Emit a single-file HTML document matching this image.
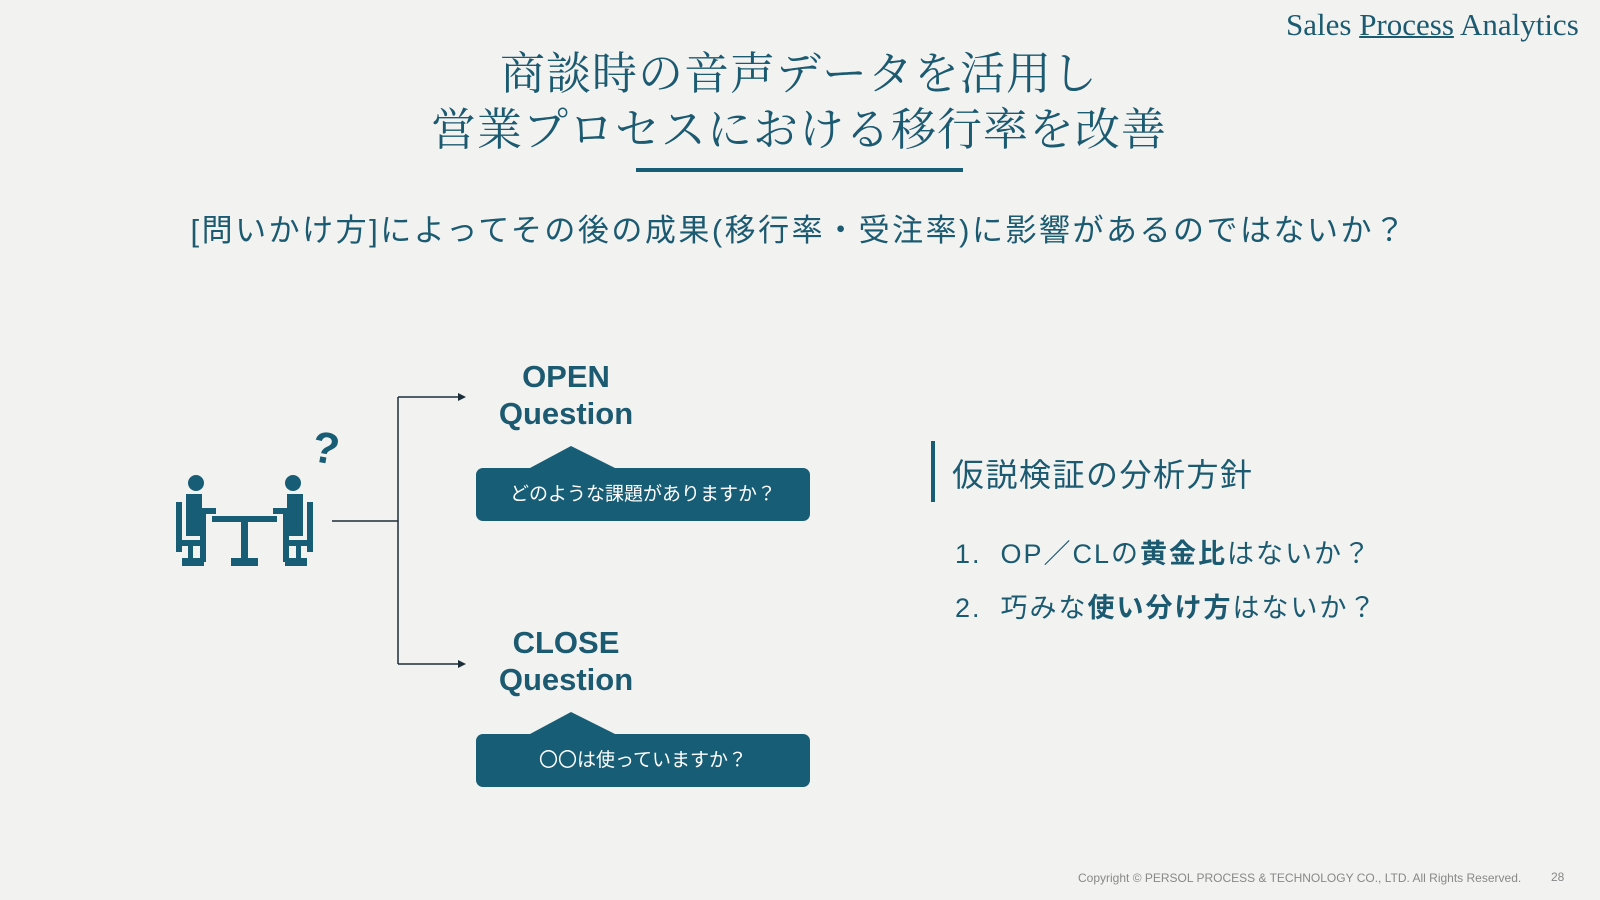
<!DOCTYPE html>
<html><head><meta charset="utf-8"><style>
body{margin:0;width:1600px;height:900px;overflow:hidden;background:#f2f2f0;position:relative;font-family:"Liberation Sans","Noto Sans CJK JP",sans-serif;color:#1b5a70}
.a{position:absolute;white-space:nowrap}
.serif{font-family:"Liberation Serif","Noto Serif CJK SC",serif}
.c{transform:translateX(-50%);text-align:center}
.bub{position:absolute;left:476px;width:334px;height:53px;background:#175d75;border-radius:7px;color:#fff;font-size:19px;line-height:53px;text-align:center}
</style></head><body>
<div class="a serif" style="left:1286px;top:7px;font-size:31px;color:#1b5a70">Sales <span style="text-decoration:underline;text-decoration-thickness:2px">Process</span> Analytics</div>
<div class="a serif c" style="left:799px;top:46px;font-size:45px;line-height:56px;letter-spacing:1px">商談時の音声データを活用し<br>営業プロセスにおける移行率を改善</div>
<div class="a" style="left:636px;top:168px;width:327px;height:4px;background:#175d75"></div>
<div class="a c" style="left:799px;top:205px;font-size:31px;letter-spacing:2.5px;color:#1b5a70">[問いかけ方]によってその後の成果(移行率・受注率)に影響があるのではないか？</div>

<svg class="a" style="left:0;top:0" width="1600" height="900">
<g fill="#175d75">
<circle cx="196" cy="483" r="8"/><circle cx="293" cy="483" r="8"/>
<path d="M186 494h16v14h14v6h-14v22h-16z"/>
<path d="M303 494h-16v14h-14v6h14v22h16z"/>
<rect x="176" y="502" width="6" height="50"/><rect x="307" y="502" width="6" height="50"/>
<rect x="176" y="540" width="30" height="6"/><rect x="283" y="540" width="30" height="6"/>
<rect x="188" y="546" width="5" height="14"/><rect x="296" y="546" width="5" height="14"/>
<rect x="182" y="558" width="22" height="8"/><rect x="285" y="558" width="22" height="8"/>
<rect x="212" y="516" width="65" height="6"/><rect x="241" y="522" width="7" height="38"/>
<rect x="231" y="558" width="27" height="8"/>
<rect x="200" y="512" width="6" height="50"/><rect x="283" y="512" width="6" height="50"/>
</g>
<text x="312" y="463" font-family="Liberation Sans" font-weight="bold" font-size="44" fill="#175d75" transform="rotate(10 325 450)">?</text>
<g stroke="#1c2e3a" stroke-width="1.5" fill="none">
<path d="M332 521H398M398 397V664M398 397H460M398 664H460"/>
</g>
<path d="M458 393l8 4-8 4z M458 660l8 4-8 4z" fill="#1c2e3a"/>
<path d="M530 468L571 446L615 468z M530 734L571 712L615 734z" fill="#175d75"/>
<rect x="931" y="441" width="4" height="61" fill="#175d75"/>
</svg>

<div class="a c" style="left:566px;top:358px;font-size:31px;font-weight:bold;line-height:37px">OPEN<br>Question</div>
<div class="bub" style="top:468px">どのような課題がありますか？</div>
<div class="a c" style="left:566px;top:624px;font-size:31px;font-weight:bold;line-height:37px">CLOSE<br>Question</div>
<div class="bub" style="top:734px">〇〇は使っていますか？</div>

<div class="a" style="left:952px;top:450px;font-size:32px;letter-spacing:1.5px">仮説検証の分析方針</div>
<div class="a" style="left:955px;top:532px;font-size:27px;letter-spacing:2px">1.&nbsp; OP／CLの<b>黄金比</b>はないか？</div>
<div class="a" style="left:955px;top:586px;font-size:27px;letter-spacing:2px">2.&nbsp; 巧みな<b>使い分け方</b>はないか？</div>

<div class="a" style="left:1078px;top:871px;font-size:12px;color:#888">Copyright © PERSOL PROCESS &amp; TECHNOLOGY CO., LTD. All Rights Reserved.</div>
<div class="a" style="left:1551px;top:870px;font-size:12px;color:#888">28</div>
</body></html>
